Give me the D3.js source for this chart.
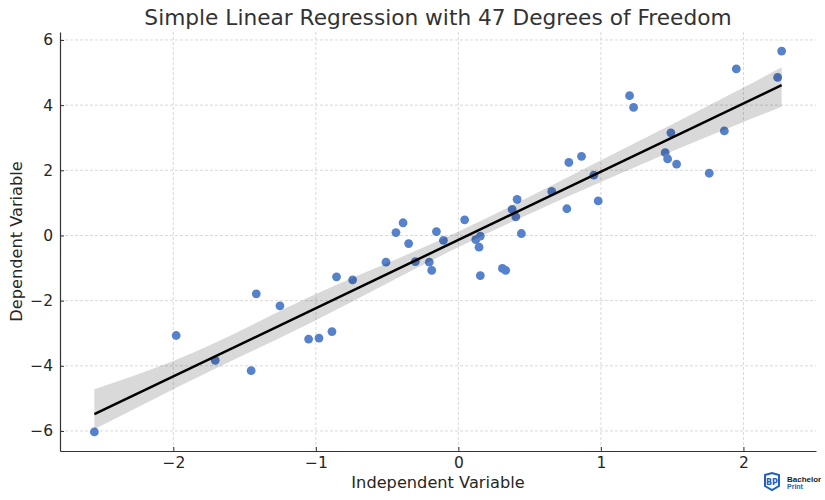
<!DOCTYPE html>
<html>
<head>
<meta charset="utf-8">
<script src="https://cdn.jsdelivr.net/npm/d3@7"></script>
<style>
  html, body { margin: 0; padding: 0; background: #fff; }
  svg { display: block; font-family: "DejaVu Sans", sans-serif; }
</style>
</head>
<body>
<svg id="chart" width="825" height="500"></svg>
<script>
// ---- data ----
const xValues = [-2.554, -1.98, -1.706, -1.418, -1.454, -1.252, -1.051, -0.978, -0.887, -0.855,
  -0.742, -0.508, -0.438, -0.388, -0.349, -0.302, -0.204, -0.187, -0.154, -0.105,
  0.044, 0.122, 0.154, 0.145, 0.154, 0.309, 0.332, 0.412, 0.377, 0.403,
  0.442, 0.655, 0.761, 0.775, 0.864, 0.950, 0.981, 1.201, 1.229, 1.491,
  1.451, 1.468, 1.531, 1.760, 1.866, 1.950, 2.240, 2.268];
const yValues = [-6.03, -3.07, -3.83, -1.79, -4.15, -2.16, -3.18, -3.15, -2.95, -1.27,
  -1.36, -0.82, 0.09, 0.39, -0.25, -0.80, -0.82, -1.07, 0.12, -0.15,
  0.48, -0.13, -0.02, -0.36, -1.23, -1.01, -1.07, 1.11, 0.80, 0.57,
  0.06, 1.35, 0.82, 2.24, 2.43, 1.85, 1.06, 4.29, 3.93, 3.15,
  2.54, 2.35, 2.19, 1.91, 3.21, 5.11, 4.85, 5.66];
// confidence band edges
const bandX = [-2.554, -2, -1, 0, 1, 2, 2.268];
const bandUpper = [-4.72, -3.85, -1.80, 0.12, 2.31, 4.54, 5.16];
const bandLower = [-5.95, -4.72, -2.60, -0.36, 1.64, 3.48, 3.95];
const xTicks = [-2, -1, 0, 1, 2];
const yTicks = [-6, -4, -2, 0, 2, 4, 6];
const titleText = "Simple Linear Regression with 47 Degrees of Freedom";
const xLabel = "Independent Variable";
const yLabel = "Dependent Variable";

// ---- layout ----
const W = 825, H = 500;
const margin = {left: 60, right: 9, top: 32, bottom: 49};
const svg = d3.select("#chart");

function padded(ext) { const r = ext[1] - ext[0]; return [ext[0] - 0.05 * r, ext[1] + 0.05 * r]; }
const x = d3.scaleLinear().domain(padded(d3.extent(xValues))).range([margin.left, W - margin.right]);
const y = d3.scaleLinear().domain(padded(d3.extent(yValues))).range([H - margin.bottom, margin.top]);

const minus = s => String(s).replace("-", "\u2212");

// grid
const grid = svg.append("g");
grid.selectAll("line.gx").data(xTicks).join("line")
  .attr("x1", d => x(d)).attr("x2", d => x(d))
  .attr("y1", margin.top).attr("y2", H - margin.bottom)
  .attr("stroke", "#cfcfcf").attr("stroke-width", 0.8).attr("stroke-dasharray", "3,2");
grid.selectAll("line.gy").data(yTicks).join("line")
  .attr("y1", d => y(d)).attr("y2", d => y(d))
  .attr("x1", margin.left).attr("x2", W - margin.right)
  .attr("stroke", "#cfcfcf").attr("stroke-width", 0.8).attr("stroke-dasharray", "3,2");

// points
const pts = xValues.map((v, i) => ({x: v, y: yValues[i]}));
svg.append("g").selectAll("circle").data(pts).join("circle")
  .attr("cx", d => x(d.x)).attr("cy", d => y(d.y)).attr("r", 4.4)
  .attr("fill", "#5681CB");

// band
const band = bandX.map((v, i) => ({x: v, lo: bandLower[i], hi: bandUpper[i]}));
svg.append("path").datum(band)
  .attr("d", d3.area().x(d => x(d.x)).y0(d => y(d.lo)).y1(d => y(d.hi)).curve(d3.curveMonotoneX))
  .attr("fill", "#000").attr("fill-opacity", 0.15);

// OLS fit line
const mx = d3.mean(xValues), my = d3.mean(yValues);
let sxy = 0, sxx = 0;
xValues.forEach((v, i) => { sxy += (v - mx) * (yValues[i] - my); sxx += (v - mx) * (v - mx); });
const slope = sxy / sxx, intercept = my - slope * mx;
const xr = d3.extent(xValues);
svg.append("path").datum(xr.map(v => ({x: v, y: intercept + slope * v})))
  .attr("d", d3.line().x(d => x(d.x)).y(d => y(d.y)))
  .attr("stroke", "#000").attr("stroke-width", 2.5).attr("fill", "none");

// axes
const xAxis = svg.append("g").attr("transform", `translate(0,${H - margin.bottom})`)
  .call(d3.axisBottom(x).tickValues(xTicks).tickSizeInner(-4).tickSizeOuter(0).tickPadding(6).tickFormat(minus));
const yAxis = svg.append("g").attr("transform", `translate(${margin.left},0)`)
  .call(d3.axisLeft(y).tickValues(yTicks).tickSizeInner(-4).tickSizeOuter(0).tickPadding(7).tickFormat(minus));
[xAxis, yAxis].forEach(g => {
  g.select(".domain").attr("stroke", "#333").attr("stroke-width", 1.2);
  g.selectAll(".tick line").attr("stroke", "#333");
  g.selectAll("text").attr("font-size", 15.5).attr("fill", "#262626").attr("font-family", "DejaVu Sans");
});

// titles
svg.append("text").attr("x", 438).attr("y", 25).attr("text-anchor", "middle")
  .attr("font-size", 21.7).attr("fill", "#333").text(titleText);
svg.append("text").attr("x", 438).attr("y", 488).attr("text-anchor", "middle")
  .attr("font-size", 16.2).attr("fill", "#262626").text(xLabel);
svg.append("text").attr("transform", `translate(22,${(margin.top + H - margin.bottom) / 2}) rotate(-90)`)
  .attr("text-anchor", "middle").attr("font-size", 16.2).attr("fill", "#262626").text(yLabel);

// watermark logo
const logo = svg.append("g").attr("transform", "translate(765,473)");
logo.append("path").attr("d", "M0,2 L7,0 L14,2 L14,13 L7,17 L0,13 Z").attr("fill", "none")
  .attr("stroke", "#1f5fbf").attr("stroke-width", 2);
logo.append("text").attr("x", 7).attr("y", 12).attr("text-anchor", "middle")
  .attr("font-size", 8).attr("font-weight", "bold").attr("fill", "#1f5fbf").text("BP");
logo.append("text").attr("x", 22).attr("y", 9).attr("font-size", 8).attr("font-weight", "bold")
  .attr("fill", "#222").attr("font-family", "Liberation Sans Narrow, Liberation Sans").text("Bachelor");
logo.append("text").attr("x", 22).attr("y", 16).attr("font-size", 7).attr("font-weight", "bold")
  .attr("fill", "#1f5fbf").attr("font-family", "Liberation Sans").text("Print");
</script>
</body>
</html>
